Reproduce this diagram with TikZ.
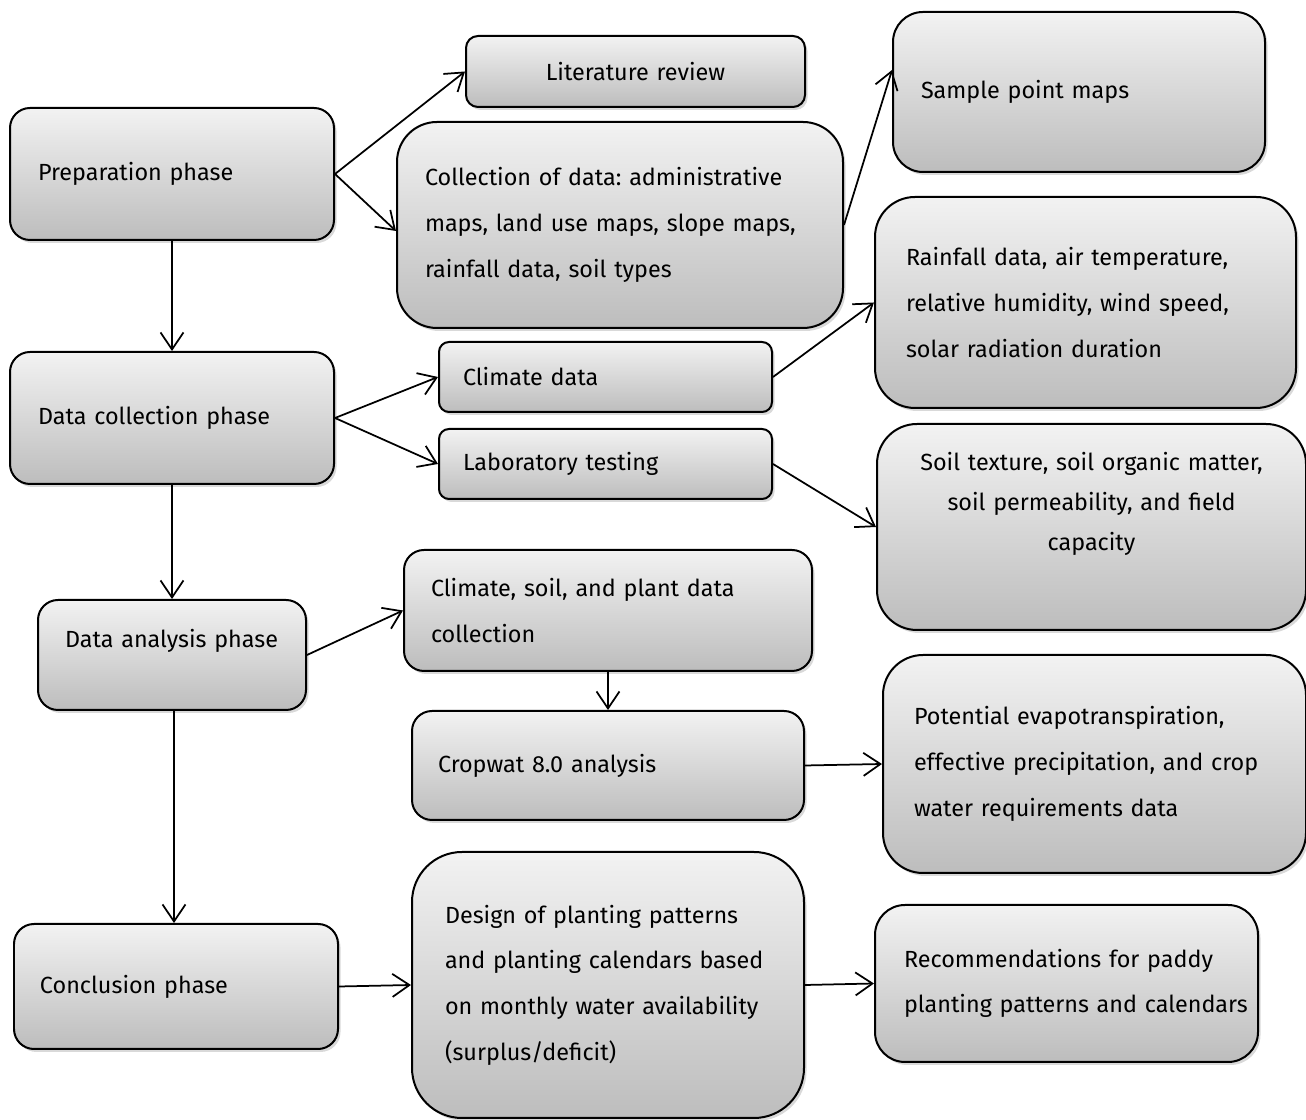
\documentclass[tikz,border=0pt]{standalone}
\usepackage{fontspec}
\setmainfont{Fira Sans}
\frenchspacing
\usetikzlibrary{arrows.meta,shadows}
\begin{document}
\begin{tikzpicture}[
    phase/.style={draw, line width=0.04cm, rounded corners=0.4cm,
      top color=white!95!black, bottom color=white!74!black,
      drop shadow={opacity=0.3, shadow xshift=0.05cm, shadow yshift=-0.06cm},
      font=\fontsize{13.3}{26}\selectfont, align=left, inner xsep=0.56cm,
      inner ysep=0pt},
    arr/.style={line width=0.035cm, -{Straight Barb[length=0.34cm,width=0.46cm,line width=0.035cm]}}
  ]
  \useasboundingbox (0,0) rectangle (26.12,22.4);
  \path
    (3.44,18.92) node[phase, minimum width=6.48cm, minimum height=2.64cm,
      text width=5.36cm] (prep) {Preparation phase}
    (12.71,20.97) node[phase, minimum width=6.78cm, minimum height=1.42cm,
      rounded corners=0.24cm, align=center, text width=5.66cm] (lit) {Literature review}
    (12.40,17.90) node[phase, minimum width=8.92cm, minimum height=4.12cm,
      rounded corners=0.8cm, text width=7.8cm] (coll)
      {Collection of data: administrative\\maps, land use maps, slope maps,\\rainfall data, soil types}
    (21.58,20.56) node[phase, minimum width=7.44cm, minimum height=3.2cm,
      rounded corners=0.6cm, text width=6.32cm] (sample) {Sample point maps}
    (3.44,14.04) node[phase, minimum width=6.48cm, minimum height=2.64cm,
      text width=5.36cm] (dcoll) {Data collection phase}
    (12.11,14.86) node[phase, minimum width=6.66cm, minimum height=1.4cm,
      rounded corners=0.2cm, inner xsep=0.48cm, text width=5.7cm] (climate) {Climate data}
    (12.11,13.12) node[phase, minimum width=6.66cm, minimum height=1.4cm,
      rounded corners=0.2cm, inner xsep=0.48cm, text width=5.7cm] (lab) {Laboratory testing}
    (21.71,16.35) node[phase, minimum width=8.42cm, minimum height=4.22cm,
      rounded corners=0.8cm, inner xsep=0.62cm, text width=7.18cm] (rain)
      {Rainfall data, air temperature,\\relative humidity, wind speed,\\solar radiation duration}
    (21.83,11.86) node[phase, minimum width=8.58cm, minimum height=4.12cm,
      rounded corners=0.8cm, align=center, text width=7.4cm,
      font=\fontsize{13.3}{22.7}\selectfont] (soil)
      {Soil texture, soil organic matter,\\soil permeability, and field\\capacity\\\strut}
    (3.44,9.30) node[phase, minimum width=5.36cm, minimum height=2.2cm,
      inner xsep=0.54cm, text width=4.28cm] (anal) {Data analysis phase\\[-0.52cm]\strut}
    (12.16,10.19) node[phase, minimum width=8.16cm, minimum height=2.42cm,
      inner xsep=0.54cm, text width=7.08cm] (cswp)
      {Climate, soil, and plant data\\collection}
    (12.16,7.09) node[phase, minimum width=7.84cm, minimum height=2.18cm,
      inner xsep=0.52cm, text width=6.8cm] (cropwat) {Cropwat 8.0 analysis}
    (21.89,7.12) node[phase, minimum width=8.46cm, minimum height=4.36cm,
      rounded corners=0.8cm, inner xsep=0.62cm, text width=7.22cm] (potev)
      {Potential evapotranspiration,\\effective precipitation, and crop\\water requirements data}
    (3.52,2.67) node[phase, minimum width=6.48cm, minimum height=2.5cm,
      inner xsep=0.52cm, text width=5.44cm] (concl) {Conclusion phase}
    (12.16,2.70) node[phase, minimum width=7.84cm, minimum height=5.32cm,
      rounded corners=1.0cm, inner xsep=0.66cm, text width=6.52cm] (design)
      {Design of planting patterns\\and planting calendars based\\on monthly water availability\\(surplus/deficit)}
    (21.33,2.73) node[phase, minimum width=7.66cm, minimum height=3.14cm,
      rounded corners=0.6cm, inner xsep=0.58cm, text width=6.5cm] (rec)
      {Recommendations for paddy\\\mbox{planting patterns and calendars}};
  \begin{scope}[arr]
    \draw (prep.east) to (lit.west);
    \draw (prep.east) to ([yshift=-0.12cm]coll.west);
    \draw (coll.east) to ([yshift=0.44cm]sample.west);
    \draw (prep.south) to (dcoll.north);
    \draw (dcoll.east) to (climate.west);
    \draw (dcoll.east) to (lab.west);
    \draw (climate.east) to (rain.west);
    \draw (lab.east) to (soil.west);
    \draw (dcoll.south) to (anal.north);
    \draw (anal.east) to (cswp.west);
    \draw (cswp.south) to (cropwat.north);
    \draw (cropwat.east) to (potev.west);
    \draw ([xshift=0.04cm]anal.south) to ([xshift=0.04cm]anal.south |- concl.north);
    \draw (concl.east) to (design.west);
    \draw (design.east) to (rec.west);
  \end{scope}
\end{tikzpicture}
\end{document}
